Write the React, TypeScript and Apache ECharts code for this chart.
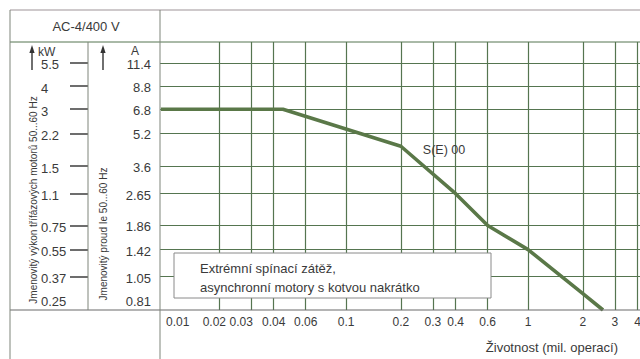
import React, { useEffect, useRef } from "react";
import * as echarts from "echarts";

// Curve S(E) 00 : life (mil. operations) vs rated current Ie (A)
const lifeMillions = [0.0096, 0.045, 0.2, 0.4, 0.6, 1, 2, 2.58];
const currentA = [6.8, 6.8, 4.5, 2.65, 1.86, 1.42, 0.87, 0.724];

// x grid / tick values
const xGridValues = [0.02, 0.03, 0.04, 0.06, 0.1, 0.2, 0.3, 0.4, 0.6, 1, 2, 3, 4];
const xTickValues = [0.01, 0.02, 0.03, 0.04, 0.06, 0.1, 0.2, 0.3, 0.4, 0.6, 1, 2, 3, 4];
const xTickLabels = ["0.01", "0.02", "0.03", "0.04", "0.06", "0.1", "0.2", "0.3", "0.4", "0.6", "1", "2", "3", "4"];

// y rows: rated current (A) and corresponding motor power (kW)
const currentTicksA = [11.4, 8.8, 6.8, 5.2, 3.6, 2.65, 1.86, 1.42, 1.05, 0.81];
const currentLabelsA = ["11.4", "8.8", "6.8", "5.2", "3.6", "2.65", "1.86", "1.42", "1.05", "0.81"];
const powerLabelsKW = ["5.5", "4", "3", "2.2", "1.5", "1.1", "0.75", "0.55", "0.37", "0.25"];
const gridRowsA = [11.4, 8.8, 6.8, 5.2, 3.6, 2.65, 1.86, 1.42, 1.05];

const title = "AC-4/400 V";
const seriesName = "S(E) 00";
const xTitle = "Životnost (mil. operací)";
const yTitleKW = "Jmenovitý výkon třífázových motorů 50...60 Hz";
const yTitleA = "Jmenovitý proud Ie 50...60 Hz";
const noteLines = ["Extrémní spínací zátěž,", "asynchronní motory s kotvou nakrátko"];

const GREEN = "#557550";
const CURVE = "#5a7848";
const TABLE = "#7e857b";
const TEXT = "#3a3a3a";
const FONT = "'Liberation Sans', Arial, sans-serif";

const hiddenAxis = {
  axisLine: { show: false },
  axisTick: { show: false },
  axisLabel: { show: false },
  splitLine: { show: false },
};

export default function App() {
  const ref = useRef<HTMLDivElement>(null);
  useEffect(() => {
    if (!ref.current) return;
    const chart = echarts.init(ref.current, null, { renderer: "svg" });
    chart.setOption({
      animation: false,
      backgroundColor: "#ffffff",
      grid: [
        { left: 160, top: 42, width: 480, height: 268, containLabel: false },
        { left: 70, top: 42, width: 18, height: 268, containLabel: false },
      ],
      xAxis: [
        { type: "log", logBase: 10, min: 0.0095, max: 4.12, gridIndex: 0, ...hiddenAxis },
        { type: "value", min: 0, max: 1, gridIndex: 1, ...hiddenAxis },
      ],
      yAxis: [
        { type: "log", logBase: 10, min: 0.724, max: 14.4, gridIndex: 0, ...hiddenAxis },
        { type: "log", logBase: 10, min: 0.724, max: 14.4, gridIndex: 1, ...hiddenAxis },
      ],
      series: [
        {
          type: "line",
          z: 1,
          data: [[0.0096, 0.73]],
          symbol: "none",
          lineStyle: { opacity: 0 },
          silent: true,
          markLine: {
            silent: true,
            animation: false,
            symbol: ["none", "none"],
            label: { show: false },
            lineStyle: { color: GREEN, width: 1.2, type: "solid" },
            emphasis: { disabled: true },
            data: [
              ...xGridValues.map((v) => ({ xAxis: v })),
              ...gridRowsA.map((v) => ({ yAxis: v })),
            ],
          },
        },
        {
          type: "line",
          xAxisIndex: 1,
          yAxisIndex: 1,
          z: 1,
          data: [[0.5, 1]],
          symbol: "none",
          lineStyle: { opacity: 0 },
          silent: true,
          markLine: {
            silent: true,
            animation: false,
            symbol: ["none", "none"],
            label: { show: false },
            lineStyle: { color: "#3c3c3c", width: 1.5, type: "solid" },
            emphasis: { disabled: true },
            data: gridRowsA.map((v) => ({ yAxis: v })),
          },
        },
        {
          type: "line",
          name: seriesName,
          z: 5,
          data: lifeMillions.map((x, i) => [x, currentA[i]]),
          symbol: "none",
          lineStyle: { color: CURVE, width: 3.6 },
          silent: true,
        },
      ],
    });

    const px = (x: number, y: number) => chart.convertToPixel({ gridIndex: 0 }, [x, y]) as number[];
    const els: any[] = [];
    let n = 0;
    const line = (x1: number, y1: number, x2: number, y2: number, color: string, w = 1) =>
      els.push({ type: "line", id: "l" + n++, z: 20, silent: true, shape: { x1, y1, x2, y2 }, style: { stroke: color, lineWidth: w } });
    const bar = (x: number, y: number, w: number, h: number, color: string) =>
      els.push({ type: "rect", id: "r" + n++, z: 22, silent: true, shape: { x, y, width: w, height: h }, style: { fill: color } });
    const text = (x: number, y: number, t: string, size: number, align = "center", extra: any = {}) =>
      els.push({
        type: "text",
        id: "t" + n++,
        z: 30,
        silent: true,
        x,
        y,
        ...extra,
        style: { text: t, fontSize: size, fontFamily: FONT, fill: TEXT, align, verticalAlign: "middle" },
      });

    // table structure
    line(10, 10, 640, 10, "#9d9398", 1.2);
    line(10, 42, 640, 42, GREEN, 1);
    line(10, 310, 640, 310, "#6a6a6a", 1.2);
    line(10, 10, 10, 359, TABLE, 1);
    line(160, 10, 160, 359, TABLE, 1);
    line(88, 42, 88, 310, TABLE, 1);

    text(86, 26, title, 13);

    // arrows + units
    const arrow = (x: number) => {
      bar(x - 0.7, 50, 1.4, 20, "#333");
      els.push({ type: "polygon", id: "p" + n++, z: 30, silent: true, shape: { points: [[x, 45], [x - 2.6, 53], [x + 2.6, 53]] }, style: { fill: "#333" } });
    };
    arrow(32);
    arrow(103);
    text(38, 52, "kW", 12, "left");
    text(135, 51, "A", 12, "center");

    // y rows
    currentTicksA.forEach((v, i) => {
      const y = px(1, v)[1];
      text(151, y + 1.5, currentLabelsA[i], 13, "right");
      text(41, y + 2, powerLabelsKW[i], 13, "left");
    });

    // x ticks
    xTickValues.forEach((v, i) => {
      const x = px(v, 1)[0];
      if (i === 0) text(x + 2, 322, xTickLabels[i], 12, "left");
      else if (xTickLabels[i] === "0.03") text(x + 2, 322, xTickLabels[i], 12, "right");
      else if (xTickLabels[i] === "0.02") text(x - 4.5, 322, xTickLabels[i], 12, "center");
      else text(x, 322, xTickLabels[i], 12, "center");
    });
    text(618, 347, xTitle, 13, "right");

    // rotated axis titles
    text(33, 200, yTitleKW, 10, "center", { rotation: Math.PI / 2 });
    text(103, 234, yTitleA, 10, "center", { rotation: Math.PI / 2 });

    // series label
    text(444, 150, seriesName, 12.5, "center");

    // note box
    els.push({
      type: "rect",
      id: "box",
      z: 25,
      silent: true,
      shape: { x: 174, y: 253, width: 317, height: 45 },
      style: { fill: "#ffffff", stroke: "#8a8a8a", lineWidth: 1 },
    });
    text(200, 268, noteLines[0], 13, "left");
    text(200, 287, noteLines[1], 13, "left");

    chart.setOption({ graphic: { elements: els } });
    return () => chart.dispose();
  }, []);
  return <div ref={ref} style={{ position: "absolute", left: 0, top: 0, width: 640, height: 359 }} />;
}
